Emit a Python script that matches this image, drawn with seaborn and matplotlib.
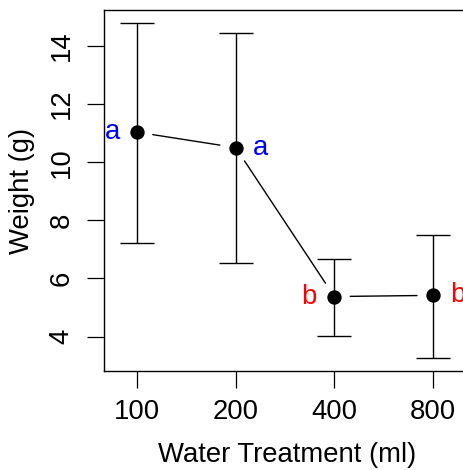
import numpy as np
import pandas as pd
import matplotlib
matplotlib.use("Agg")
import matplotlib.pyplot as plt
import seaborn as sns

treatments = ["100", "200", "400", "800"]
mean_weight = [11.03, 10.50, 5.38, 5.42]
upper = [14.77, 14.43, 6.68, 7.51]
lower = [7.22, 6.52, 4.03, 3.28]
letters = ["a", "a", "b", "b"]
letter_colors = ["#0000FF", "#0000FF", "#FF0000", "#FF0000"]
letter_side = ["left", "right", "left", "right"]
y_ticks = [4, 6, 8, 10, 12, 14]

sns.set_style("white")
plt.rcParams["font.family"] = ["Liberation Sans", "DejaVu Sans"]

df = pd.DataFrame({"treatment": treatments, "weight": mean_weight})

fig = plt.figure(figsize=(4.64, 4.70), dpi=100)
ax = fig.add_axes([104 / 464, 99 / 470, 362 / 464, 361 / 470])

FS = 19.8

# error bars
pos = np.arange(len(treatments))
m = np.array(mean_weight)
ax.errorbar(pos, m, yerr=[m - np.array(lower), np.array(upper) - m],
            fmt="none", ecolor="black", elinewidth=1.0, capsize=11.9,
            capthick=1.0, zorder=2)

# points
sns.pointplot(data=df, x="treatment", y="weight", order=treatments,
              color="black", linestyle="none", errorbar=None,
              markers="o", markersize=8.3, ax=ax, zorder=4)

# connecting line segments with gaps (R type="b")
for i in range(len(treatments) - 1):
    ax.annotate("", xy=(pos[i + 1], m[i + 1]), xytext=(pos[i], m[i]),
                arrowprops=dict(arrowstyle="-", color="black", lw=1.0,
                                shrinkA=11.5, shrinkB=11.5))

# group letters
for i, (lab, col, side) in enumerate(zip(letters, letter_colors, letter_side)):
    dx = -12.5 if side == "left" else 12.5
    ax.annotate(lab, xy=(pos[i], m[i]), xytext=(dx, 0), textcoords="offset points",
                ha="right" if side == "left" else "left", va="center",
                color=col, fontsize=FS)

ax.set_xlim(-0.335, 3.335)
ax.set_ylim(2.82, 15.23)
ax.set_yticks(y_ticks)
ax.set_yticklabels([str(t) for t in y_ticks], rotation=90, va="center")
ax.set_xticks(pos)
ax.set_xticklabels(treatments)

ax.tick_params(axis="both", direction="out", length=12.2, width=0.9,
               labelsize=FS, color="black", labelcolor="black")
ax.tick_params(axis="x", pad=8)
ax.tick_params(axis="y", pad=9)
ax.tick_params(left=True, bottom=True)

for sp in ax.spines.values():
    sp.set_visible(True)
    sp.set_color("black")
    sp.set_linewidth(1.0)

ax.set_xlabel("Water Treatment (ml)", fontsize=FS, color="black")
ax.set_ylabel("Weight (g)", fontsize=FS, color="black")
ax.xaxis.set_label_coords((287 - 104) / 362, -(455 - 371) / 361)
ax.xaxis.label.set_va("center")
ax.yaxis.set_label_coords(-(104 - 22) / 362, 0.5)
ax.yaxis.label.set_va("center")
ax.grid(False)

fig.savefig("out.png", dpi=100, facecolor="white")
